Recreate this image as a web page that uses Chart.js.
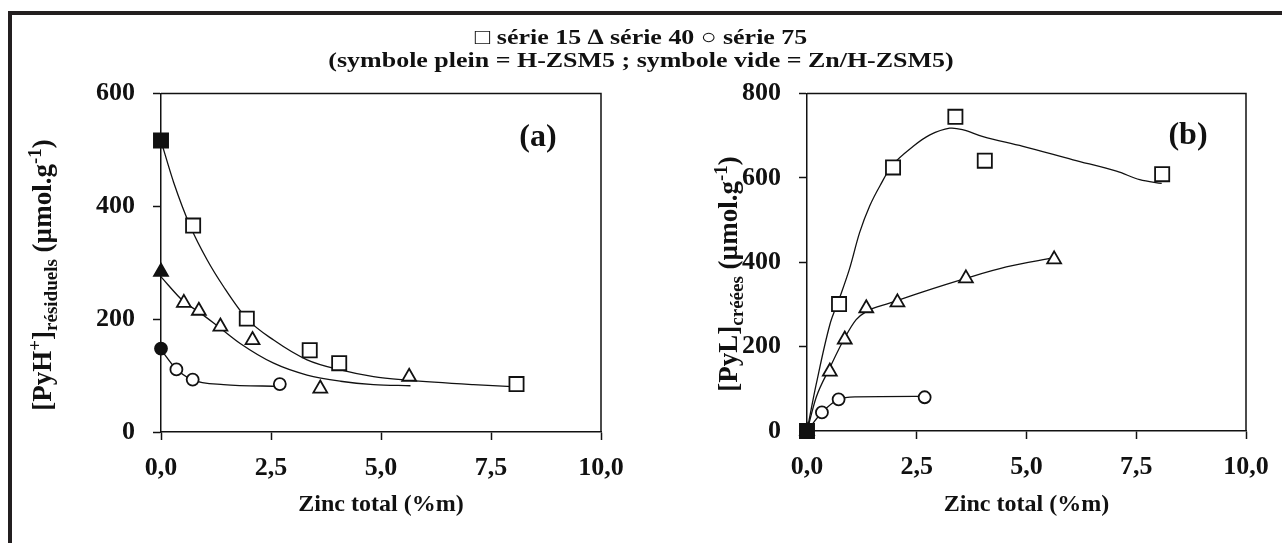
<!DOCTYPE html>
<html>
<head>
<meta charset="utf-8">
<script src="https://cdn.jsdelivr.net/npm/chart.js@4.4.1/dist/chart.umd.min.js"></script>
<style>
  body { margin: 0; background: #fff; }
  #page { position: relative; width: 1282px; height: 543px; overflow: hidden; background: #fff; }
  .frame { position: absolute; background: #231f20; }
  #title { position: absolute; left: 0; top: 25px; width: 1282px; text-align: center;
           font: bold 22px/23px 'Liberation Serif', serif; color: #111; transform: scaleX(1.18); z-index: 2; }
  canvas { position: absolute; }
</style>
</head>
<body>
<div id="page">
  <div class="frame" style="left:8px; top:11px; width:1274px; height:4px;"></div>
  <div class="frame" style="left:8px; top:11px; width:4px; height:532px;"></div>
  <div id="title">□ série 15 ∆ série 40 ○ série 75<br>(symbole plein = H-ZSM5 ; symbole vide = Zn/H-ZSM5)</div>
  <canvas id="chartA" width="640" height="480" style="left:0; top:60px;"></canvas>
  <canvas id="chartB" width="642" height="480" style="left:640px; top:60px;"></canvas>
</div>
<script>
// tick labels
const xTickLabels = ['0,0', '2,5', '5,0', '7,5', '10,0'];

// (a) residual PyH+ - measured points
const a15x = [0, 0.73, 1.95, 3.38, 4.05, 8.08];
const a15y = [517, 366, 201, 145, 122, 85];
const a40x = [0, 0.52, 0.86, 1.35, 2.08, 3.62, 5.64];
const a40y = [284, 229, 215, 187, 163, 77, 98];
const a75x = [0, 0.35, 0.72, 2.70];
const a75y = [148, 111, 93, 85];

// (a) fitted curves
const a15fitX = [0, 0.29, 0.67, 1.05, 1.42, 1.95, 2.56, 3.32, 4.08, 4.83, 5.59, 7.1, 8.09];
const a15fitY = [516, 442, 364, 305, 258, 201, 163, 128, 110, 98, 92, 84, 80];
const a40fitX = [0, 0.52, 0.86, 1.35, 1.8, 2.56, 3.32, 4.08, 4.83, 5.67];
const a40fitY = [275, 231, 213, 184, 157, 122, 101, 90, 84, 82];
const a75fitX = [0, 0.33, 0.70, 1.42, 2.71];
const a75fitY = [146, 113, 93, 84, 81];

// (b) created PyL - measured points
const b15x = [0, 0.73, 1.96, 3.38, 4.05, 8.09];
const b15y = [0, 301, 625, 745, 641, 609];
const b40x = [0, 0.52, 0.86, 1.35, 2.06, 3.62, 5.63];
const b40y = [0, 141, 217, 291, 305, 362, 407];
const b75x = [0, 0.34, 0.72, 2.68];
const b75y = [0, 44, 75, 80];

// (b) fitted curves
const b15fitX = [0, 0.21, 0.52, 0.74, 0.97, 1.2, 1.43, 1.66, 1.96, 2.42, 2.8, 3.25, 3.56, 4.01, 4.92, 6.06, 7.05, 7.58, 8.08];
const b15fitY = [0, 111, 252, 315, 385, 471, 534, 581, 632, 675, 702, 718, 714, 698, 675, 643, 616, 596, 587];
const b40fitX = [0, 0.21, 0.52, 0.86, 1.12, 1.35, 1.88, 2.64, 3.62, 4.54, 5.63];
const b40fitY = [0, 80, 150, 221, 264, 283, 303, 330, 362, 389, 411];
const b75fitX = [0, 0.34, 0.72, 1.12, 2.68];
const b75fitY = [0, 44, 75, 81, 82];

const INK = '#111';
const FONT = "'Liberation Serif', serif";

function pts(xs, ys) {
    return xs.map((x, i) => ({ x: x, y: ys[i] }));
}

// first point of each series is the H-ZSM5 parent (filled), the rest Zn/H-ZSM5 (open)
function markers(xs, ys, style, radius) {
    return {
        data: pts(xs, ys),
        showLine: false,
        pointStyle: style,
        pointRadius: radius,
        pointBorderWidth: 1.8,
        pointBorderColor: INK,
        pointBackgroundColor: xs.map((x, i) => i === 0 ? INK : '#fff'),
        clip: false
    };
}

function fitLine(xs, ys, tension) {
    return {
        data: pts(xs, ys),
        showLine: true,
        pointRadius: 0,
        borderColor: INK,
        borderWidth: 1.3,
        tension: tension,
        cubicInterpolationMode: tension ? 'default' : 'monotone',
        fill: false
    };
}

// draws text with super/subscripts, rotated around its centre
function drawRich(ctx, parts, cx, cy, rot) {
    const big = 27, small = 19;
    ctx.save();
    ctx.translate(cx, cy);
    ctx.rotate(rot);
    let w = 0;
    parts.forEach(p => {
        ctx.font = 'bold ' + (p.k === 'n' ? big : small) + 'px ' + FONT;
        p.w = ctx.measureText(p.t).width;
        w += p.w;
    });
    let x = -w / 2;
    ctx.fillStyle = INK;
    ctx.textBaseline = 'alphabetic';
    parts.forEach(p => {
        ctx.font = 'bold ' + (p.k === 'n' ? big : small) + 'px ' + FONT;
        const dy = p.k === 'sup' ? -10 : (p.k === 'sub' ? 6 : 0);
        ctx.fillText(p.t, x, 9 + dy);
        x += p.w;
    });
    ctx.restore();
}

function makePanel(id, opts) {
    const boxPlugin = {
        id: 'box',
        afterDraw(chart) {
            const ctx = chart.ctx;
            const a = chart.chartArea;
            ctx.save();
            ctx.strokeStyle = INK;
            ctx.lineWidth = 1.5;
            ctx.beginPath();
            ctx.moveTo(a.left, a.top);
            ctx.lineTo(a.right, a.top);
            ctx.lineTo(a.right, a.bottom);
            ctx.stroke();
            // axis titles and panel tag
            drawRich(ctx, opts.yTitle, opts.yTitleX, opts.yTitleY, -Math.PI / 2);
            ctx.font = 'bold 24px ' + FONT;
            ctx.textAlign = 'center';
            ctx.textBaseline = 'middle';
            ctx.fillStyle = INK;
            ctx.fillText('Zinc total (%m)', (a.left + a.right) / 2, 445);
            ctx.font = 'bold 32px ' + FONT;
            ctx.fillText(opts.tag, opts.tagX, opts.tagY);
            ctx.restore();
        }
    };

    const tickFont = { family: FONT, size: 26, weight: 'bold' };

    new Chart(document.getElementById(id).getContext('2d'), {
        type: 'scatter',
        data: { datasets: opts.datasets },
        options: {
            responsive: false,
            animation: false,
            events: [],
            layout: { padding: { top: 32, right: opts.padRight, left: 0, bottom: 0 } },
            plugins: { legend: { display: false }, tooltip: { enabled: false } },
            scales: {
                x: {
                    type: 'linear',
                    min: 0,
                    max: 10,
                    afterFit: s => { s.height = opts.xHeight; },
                    ticks: {
                        stepSize: 2.5,
                        font: tickFont,
                        color: INK,
                        padding: 13,
                        maxRotation: 0,
                        callback: (v, i) => xTickLabels[i]
                    },
                    grid: { drawOnChartArea: false, drawTicks: true, tickLength: 8, tickColor: INK, tickWidth: 1.5 },
                    border: { color: INK, width: 1.5 }
                },
                y: {
                    min: 0,
                    max: opts.yMax,
                    afterFit: s => { s.width = opts.yWidth; },
                    ticks: { stepSize: 200, font: tickFont, color: INK, padding: 18 },
                    grid: { drawOnChartArea: false, drawTicks: true, tickLength: 8, tickColor: INK, tickWidth: 1.5 },
                    border: { color: INK, width: 1.5 }
                }
            }
        },
        plugins: [boxPlugin]
    });
}

makePanel('chartA', {
    yMax: 600,
    yWidth: 161,
    xHeight: 108,
    padRight: 39,
    tag: '(a)', tagX: 538, tagY: 78,
    yTitleX: 42, yTitleY: 215,
    yTitle: [
        { t: '[PyH', k: 'n' }, { t: '+', k: 'sup' }, { t: ']', k: 'n' },
        { t: 'résiduels', k: 'sub' }, { t: ' (µmol.g', k: 'n' }, { t: '-1', k: 'sup' }, { t: ')', k: 'n' }
    ],
    datasets: [
        markers(a15x, a15y, 'rect', 10),
        markers(a40x, a40y, 'triangle', 8),
        markers(a75x, a75y, 'circle', 6),
        fitLine(a15fitX, a15fitY, 0),
        fitLine(a40fitX, a40fitY, 0),
        fitLine(a75fitX, a75fitY, 0)
    ]
});

makePanel('chartB', {
    yMax: 800,
    yWidth: 167,
    xHeight: 109,
    padRight: 36,
    tag: '(b)', tagX: 548, tagY: 76,
    yTitleX: 88, yTitleY: 214,
    yTitle: [
        { t: '[PyL]', k: 'n' }, { t: 'créées', k: 'sub' },
        { t: ' (µmol.g', k: 'n' }, { t: '-1', k: 'sup' }, { t: ')', k: 'n' }
    ],
    datasets: [
        markers(b15x, b15y, 'rect', 10),
        markers(b40x, b40y, 'triangle', 8),
        markers(b75x, b75y, 'circle', 6),
        fitLine(b15fitX, b15fitY, 0.35),
        fitLine(b40fitX, b40fitY, 0),
        fitLine(b75fitX, b75fitY, 0)
    ]
});
</script>
</body>
</html>
